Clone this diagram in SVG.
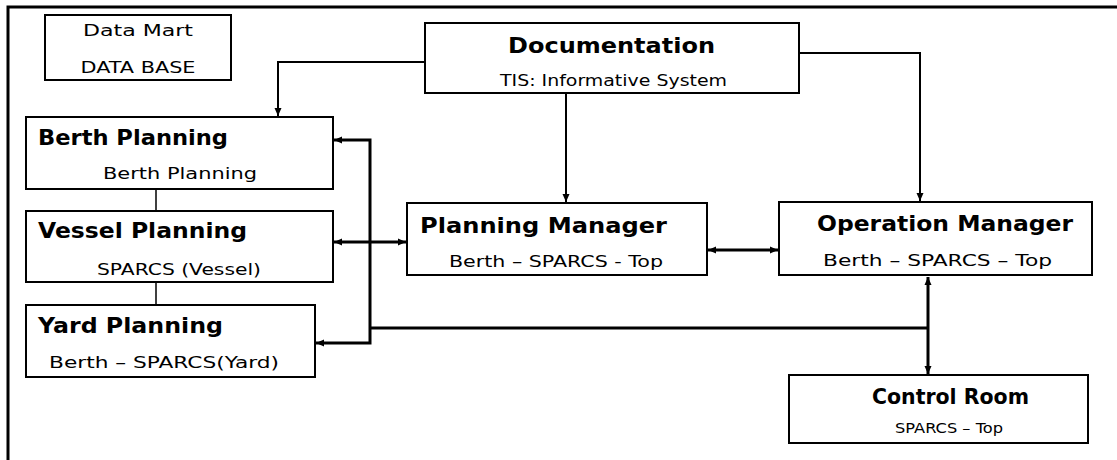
<svg xmlns="http://www.w3.org/2000/svg" width="1117" height="460" viewBox="0 0 1117 460">
<style>
.box{fill:#fff;stroke:#000;stroke-width:2}
.t{font-family:"DejaVu Sans","Liberation Sans",sans-serif;font-weight:bold;font-size:21px;fill:#000}
.s{font-family:"DejaVu Sans","Liberation Sans",sans-serif;font-size:16px;fill:#000}
.c{fill:none;stroke:#000;stroke-width:2}
.k{fill:none;stroke:#000;stroke-width:3}
.ln{fill:none;stroke:#000;stroke-width:1.5}
</style>
<defs>
<marker id="ah" markerUnits="userSpaceOnUse" markerWidth="9" markerHeight="8" refX="8" refY="4" orient="auto-start-reverse"><path d="M0,0.5 L8,4 L0,7.5 z" fill="#000"/></marker>
</defs>
<rect width="1117" height="460" fill="#fff"/>
<g id="frame"><path d="M8,460 V7 H1117" class="k"/></g>
<g id="connectors">
<path class="c" d="M425,62 H278 V116" marker-end="url(#ah)"/>
<path class="c" d="M566,93 V202" marker-end="url(#ah)"/>
<path class="c" d="M799,53 H920 V201" marker-end="url(#ah)"/>
<path class="k" d="M334,140 H370 V343 H316" marker-start="url(#ah)" marker-end="url(#ah)"/>
<path class="k" d="M334,242 H406" marker-start="url(#ah)" marker-end="url(#ah)"/>
<path class="k" d="M708,250 H778" marker-start="url(#ah)" marker-end="url(#ah)"/>
<path class="k" d="M370,328 H928"/>
<path class="k" d="M928,277 V374" marker-start="url(#ah)" marker-end="url(#ah)"/>
<path class="ln" d="M156,189 V211"/>
<path class="ln" d="M156,282 V305"/>
</g>
<g id="datamart">
<rect class="box" x="45" y="15" width="186" height="65"/>
<text class="s" x="138" y="36" text-anchor="middle" textLength="110" lengthAdjust="spacingAndGlyphs">Data Mart</text>
<text class="s" x="138" y="73" text-anchor="middle" textLength="115" lengthAdjust="spacingAndGlyphs">DATA BASE</text>
</g>
<g id="documentation">
<rect class="box" x="425" y="23" width="374" height="70"/>
<text class="t" x="508" y="53" textLength="207" lengthAdjust="spacingAndGlyphs">Documentation</text>
<text class="s" x="500" y="86" textLength="227" lengthAdjust="spacingAndGlyphs">TIS: Informative System</text>
</g>
<g id="berth">
<rect class="box" x="26" y="117" width="307" height="72"/>
<text class="t" x="38" y="145" textLength="190" lengthAdjust="spacingAndGlyphs">Berth Planning</text>
<text class="s" x="103" y="179" textLength="154" lengthAdjust="spacingAndGlyphs">Berth Planning</text>
</g>
<g id="vessel">
<rect class="box" x="26" y="211" width="307" height="71"/>
<text class="t" x="38" y="238" textLength="209" lengthAdjust="spacingAndGlyphs">Vessel Planning</text>
<text class="s" x="97" y="275" textLength="164" lengthAdjust="spacingAndGlyphs">SPARCS (Vessel)</text>
</g>
<g id="yard">
<rect class="box" x="26" y="305" width="289" height="72"/>
<text class="t" x="38" y="333" textLength="185" lengthAdjust="spacingAndGlyphs">Yard Planning</text>
<text class="s" x="49" y="368" textLength="230" lengthAdjust="spacingAndGlyphs">Berth – SPARCS(Yard)</text>
</g>
<g id="planning-manager">
<rect class="box" x="407" y="203" width="300" height="72"/>
<text class="t" x="420" y="233" textLength="247" lengthAdjust="spacingAndGlyphs">Planning Manager</text>
<text class="s" x="449" y="267" textLength="214" lengthAdjust="spacingAndGlyphs">Berth – SPARCS - Top</text>
</g>
<g id="operation-manager">
<rect class="box" x="779" y="202" width="313" height="73"/>
<text class="t" x="817" y="231" textLength="256" lengthAdjust="spacingAndGlyphs">Operation Manager</text>
<text class="s" x="823" y="266" textLength="229" lengthAdjust="spacingAndGlyphs">Berth – SPARCS – Top</text>
</g>
<g id="control-room">
<rect class="box" x="789" y="375" width="299" height="68"/>
<text class="t" x="872" y="404" textLength="157" lengthAdjust="spacingAndGlyphs">Control Room</text>
<text class="s" x="895" y="433" style="font-size:14px" textLength="108" lengthAdjust="spacingAndGlyphs">SPARCS – Top</text>
</g>
</svg>
